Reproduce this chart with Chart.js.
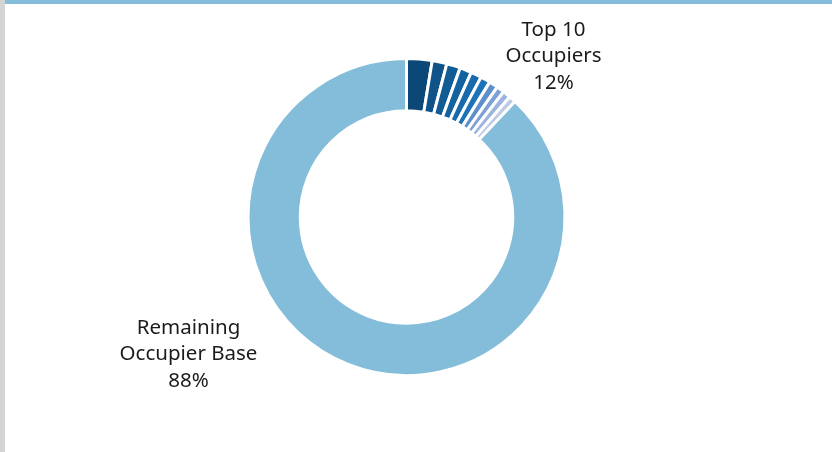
<!DOCTYPE html>
<html>
<head>
<meta charset="utf-8">
<script src="https://cdn.jsdelivr.net/npm/chart.js@4.4.1/dist/chart.umd.min.js"></script>
<style>
  html, body { margin: 0; padding: 0; background: #fff; }
  .frame { width: 827px; height: 452px; border-left: 5px solid #d4d4d4; }
  .panel { width: 827px; height: 448px; border-top: 4px solid #84bdd9; }
  .panel canvas { display: block; }
</style>
</head>
<body>
<div class="frame">
  <div class="panel">
    <canvas id="occupier-chart" width="827" height="448"></canvas>
  </div>
</div>
<script>
(function () {
  'use strict';

  // top 10 occupiers (share of income, %) followed by the rest of the base
  const topOccupiers = [2.6, 1.5, 1.4, 1.2, 1.1, 1.0, 0.9, 0.8, 0.8, 0.7];
  const remainingShare = 88;
  const topShare = 12;

  const sliceColours = [
    '#0c4877', '#0f5389', '#125c96', '#1463a1', '#176bad', '#1c73b8',
    '#5f8fcb', '#7ea0d4', '#9db4de', '#bdcbe7'
  ];
  const baseColour = '#84bdd9';

  const groupLabels = [
    { lines: ['Top 10', 'Occupiers', topShare + '%'], dx: 147, dy: -187 },
    { lines: ['Remaining', 'Occupier Base', remainingShare + '%'], dx: -218, dy: 111 }
  ];

  // text next to the ring, placed from the arc centre
  const groupText = {
    id: 'groupText',
    afterDraw(chart) {
      const arc = chart.getDatasetMeta(0).data[0];
      if (!arc) return;
      const c = chart.ctx;
      c.save();
      c.font = '20.5px "Noto Sans", sans-serif';
      c.fillStyle = '#1b1b1b';
      c.textAlign = 'center';
      c.textBaseline = 'middle';
      groupLabels.forEach(function (g) {
        g.lines.forEach(function (line, i) {
          c.fillText(line, arc.x + g.dx, arc.y + g.dy + i * 26.5);
        });
      });
      c.restore();
    }
  };

  const ctx = document.getElementById('occupier-chart').getContext('2d');

  new Chart(ctx, {
    type: 'doughnut',
    data: {
      labels: topOccupiers.map(function (v, i) { return 'Occupier ' + (i + 1); }).concat(['Remaining Occupier Base']),
      datasets: [{
        data: topOccupiers.concat([remainingShare]),
        backgroundColor: sliceColours.concat([baseColour]),
        borderColor: '#ffffff',
        borderWidth: 3
      }]
    },
    options: {
      responsive: false,
      animation: false,
      cutout: '67%',
      layout: { padding: { top: 53, bottom: 75, left: 0, right: 24 } },
      plugins: {
        legend: { display: false },
        tooltip: { enabled: false }
      }
    },
    plugins: [groupText]
  });
})();
</script>
</body>
</html>
